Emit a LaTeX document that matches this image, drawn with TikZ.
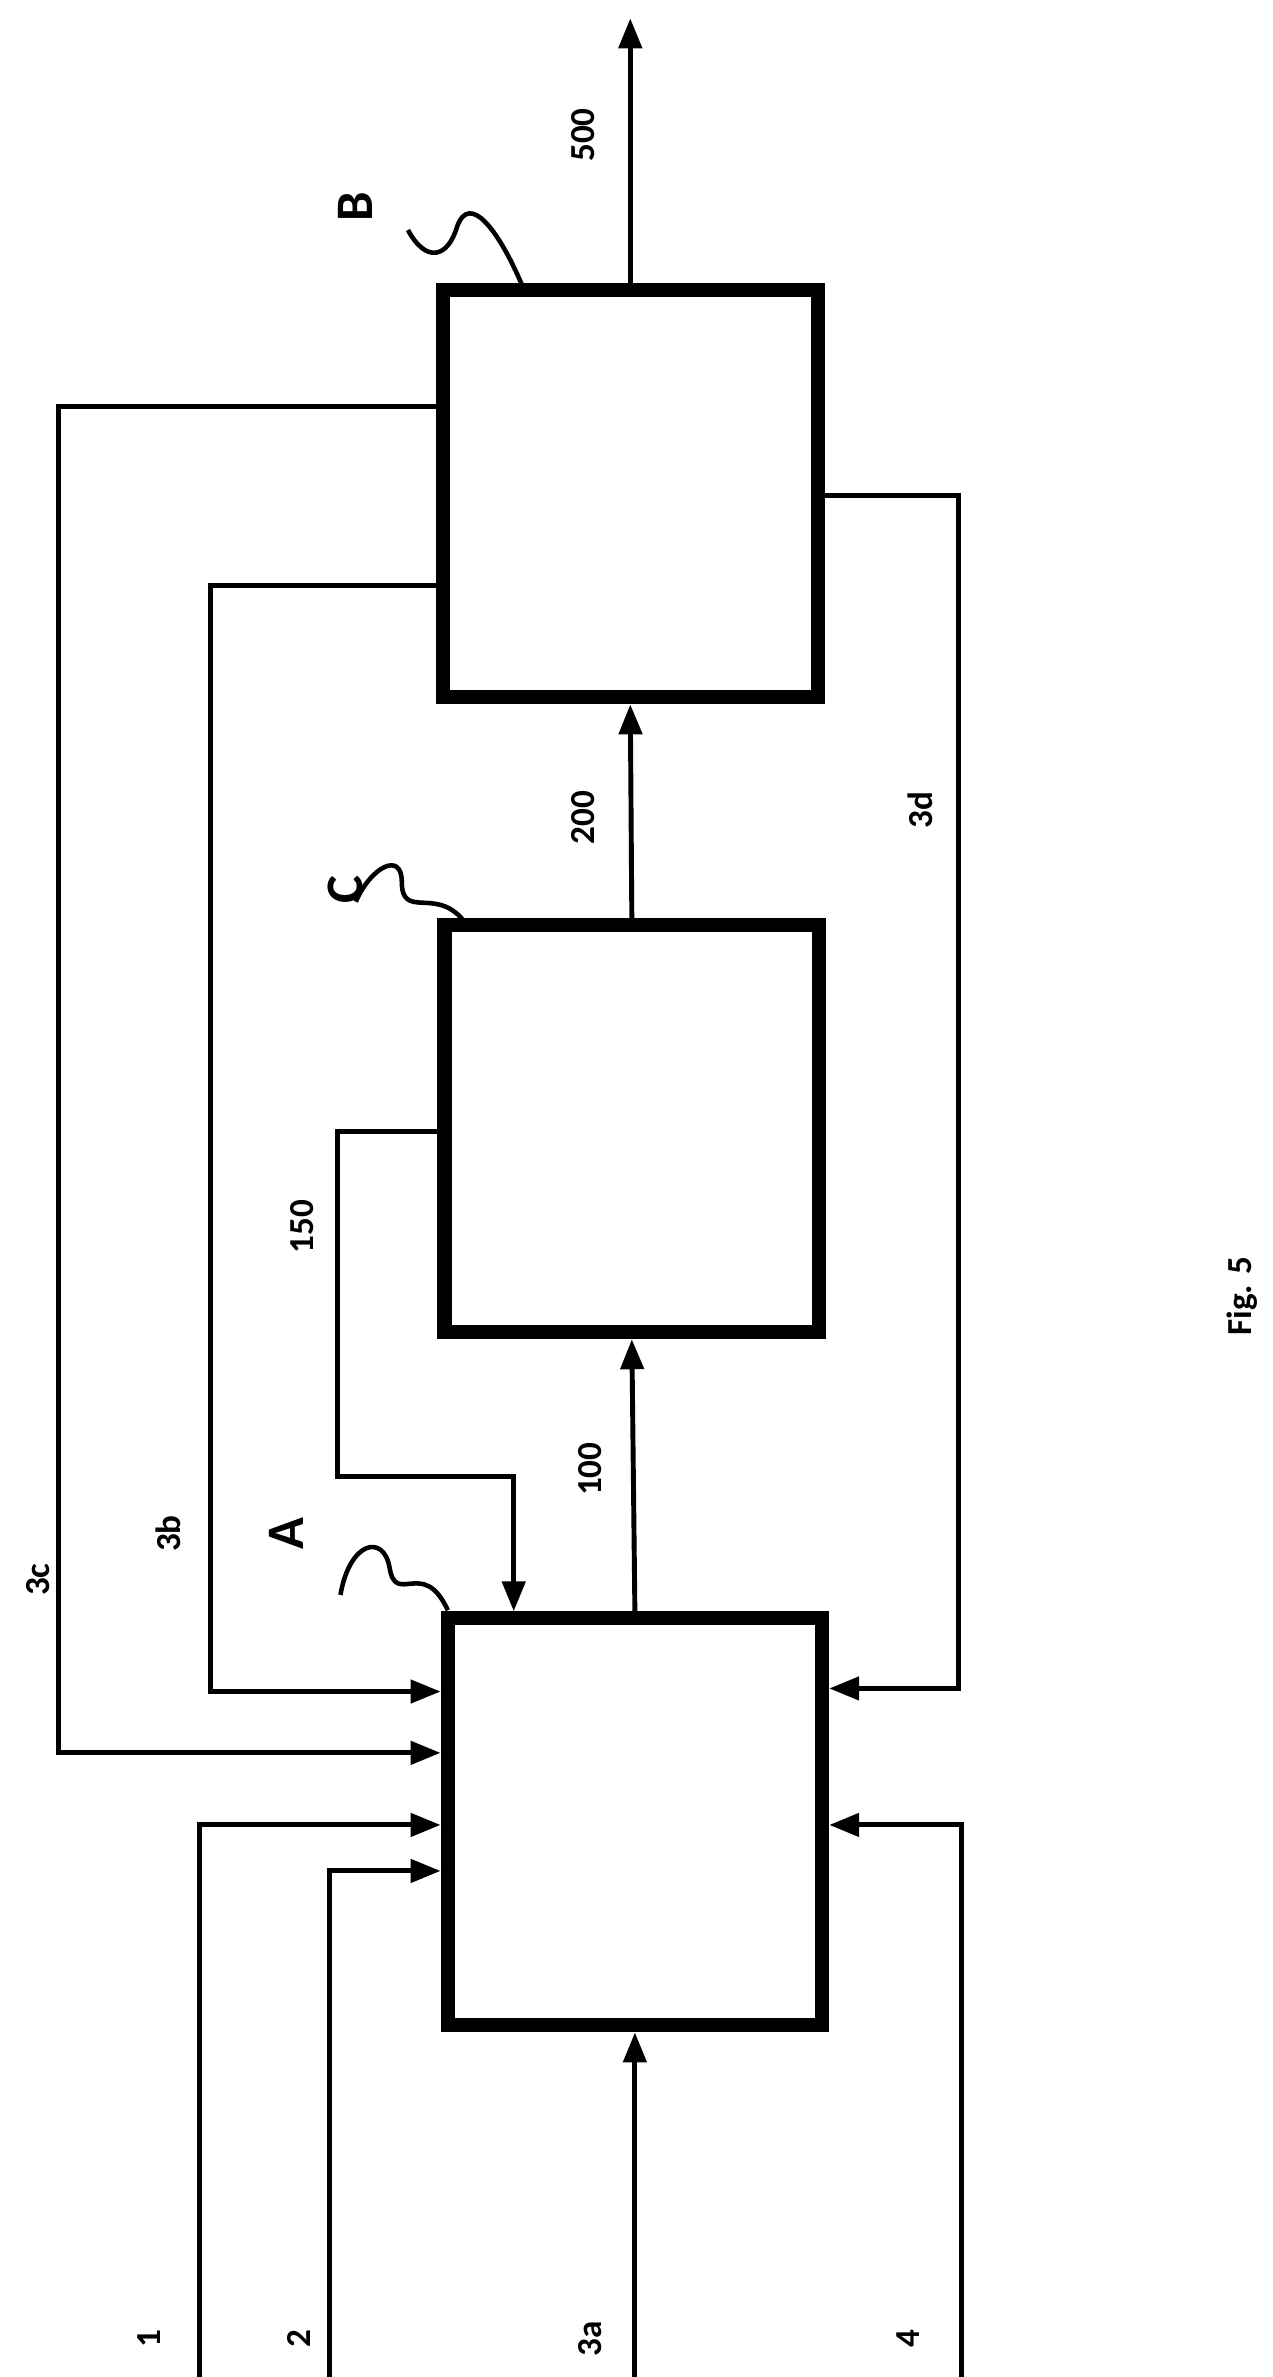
\documentclass[tikz,border=0pt]{standalone}
\usepackage{fontspec}
\setmainfont{Carlito}
\usetikzlibrary{arrows.meta}

\tikzset{
    block/.style={draw, line width=8pt, minimum width=7.5cm, minimum height=8.15cm},
    flow/.style={line width=2.8pt},
    feed/.style={flow, -{Triangle[length=6mm, width=4.6mm]}},
    tag/.style={rotate=90, font=\bfseries\fontsize{20}{24}\selectfont},
    bigtag/.style={rotate=90, font=\bfseries\fontsize{30}{34}\selectfont},
    lead/.style={line width=2.6pt}
}

\begin{document}
\begin{tikzpicture}[x=0.0307cm, y=-0.0307cm]
    \useasboundingbox (0,0) rectangle (830,1550);

    % blocks
    \node[block] (A) at (414,1188) {};
    \node[block] (C) at (412,736) {};
    \node[block] (B) at (411,322) {};

    % bend points
    \coordinate (out) at (411,12);
    \coordinate (t3c) at (38,265);   \coordinate (a3c) at (38,1143);
    \coordinate (t3b) at (137,382);  \coordinate (a3b) at (137,1103);
    \coordinate (t150) at (220,738); \coordinate (a150) at (335,963);
    \coordinate (i1) at (130,1555);  \coordinate (a1) at (130,1190);
    \coordinate (i2) at (215,1555);  \coordinate (a2) at (215,1220);
    \coordinate (i3a) at (414,1555);
    \coordinate (i4) at (627,1555);  \coordinate (a4) at (627,1190);
    \coordinate (t3d) at (625,323);  \coordinate (a3d) at (625,1101);

    % main line
    \draw[feed] (A.north) -- (C.south);
    \draw[feed] (C.north) -- (B.south);
    \draw[feed] (B.north) -- (out);
    \draw[feed] (i3a) -- (A.south);

    % returns
    \draw[feed] (B.west |- t3c) -- (t3c) |- (A.west |- a3c);
    \draw[feed] (B.west |- t3b) -- (t3b) |- (A.west |- a3b);
    \draw[feed] (C.west |- t150) -- (t150) |- (a150) -- (A.north -| a150);
    \draw[feed] (B.east |- t3d) -- (t3d) |- (A.east |- a3d);

    % inputs
    \draw[feed] (i1) |- (A.west |- a1);
    \draw[feed] (i2) |- (A.west |- a2);
    \draw[feed] (i4) |- (A.east |- a4);

    % labels
    \node[tag] at (380,88) {500};
    \node[tag] at (380,533) {200};
    \node[tag] at (385,958) {100};
    \node[tag] at (197,800) {150};
    \node[tag] at (110,1000) {3b};
    \node[tag] at (25,1030) {3c};
    \node[tag] at (600,528) {3d};
    \node[tag] at (97,1525) {1};
    \node[tag] at (195,1525) {2};
    \node[tag] at (385,1525) {3a};
    \node[tag] at (592,1525) {4};
    \node[tag] at (810,845) {Fig. 5};

    \node[bigtag] (lA) at (187,1000) {A};
    \node[bigtag] (lC) at (225,580) {C};
    \node[bigtag] (lB) at (232,135) {B};

    % leaders
    \draw[lead] (222,1040) .. controls (228,1005) and (250,1000) .. (254,1022)
        .. controls (258,1048) and (276,1015) .. (292,1050);
    \draw[lead] (232,588) .. controls (242,565) and (262,555) .. (262,575)
        .. controls (262,600) and (284,578) .. (302,600);
    \draw[lead] (266,150) .. controls (278,172) and (292,168) .. (298,148)
        .. controls (306,125) and (325,150) .. (340,185);
\end{tikzpicture}
\end{document}
